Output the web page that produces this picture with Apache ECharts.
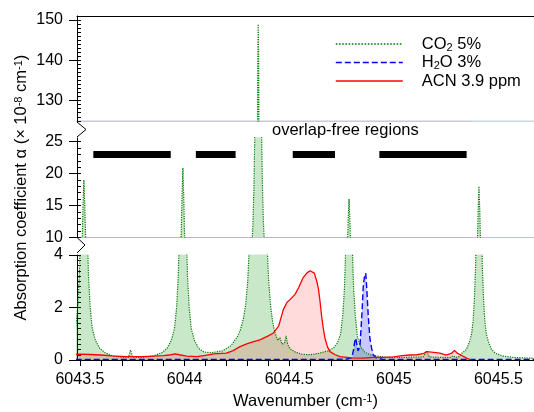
<!DOCTYPE html>
<html><head><meta charset="utf-8">
<script src="https://cdn.jsdelivr.net/npm/echarts@6/dist/echarts.min.js"></script>
<style>html,body{margin:0;padding:0;background:#fff}#c{width:534px;height:412px}</style>
</head><body><div id="c"></div>
<script>
// ---------------- data ----------------
const co2Wn = [6043.479,6043.489,6043.497,6043.503,6043.507,6043.511,6043.515,6043.519,6043.523,6043.527,6043.531,6043.535,6043.541,6043.549,6043.559,6043.574,6043.594,6043.619,6043.659,6043.700,6043.732,6043.742,6043.752,6043.800,6043.850,6043.892,6043.917,6043.937,6043.952,6043.962,6043.970,6043.976,6043.980,6043.984,6043.988,6043.992,6043.996,6044.000,6044.004,6044.008,6044.014,6044.022,6044.032,6044.047,6044.067,6044.092,6044.130,6044.182,6044.222,6044.252,6044.267,6044.282,6044.292,6044.302,6044.312,6044.322,6044.327,6044.332,6044.336,6044.339,6044.342,6044.344,6044.346,6044.348,6044.350,6044.352,6044.354,6044.356,6044.358,6044.360,6044.362,6044.365,6044.368,6044.372,6044.377,6044.382,6044.392,6044.402,6044.412,6044.422,6044.432,6044.445,6044.456,6044.466,6044.478,6044.485,6044.493,6044.505,6044.530,6044.560,6044.600,6044.640,6044.686,6044.711,6044.731,6044.746,6044.756,6044.764,6044.770,6044.774,6044.778,6044.782,6044.786,6044.790,6044.794,6044.798,6044.802,6044.808,6044.816,6044.826,6044.841,6044.861,6044.886,6044.920,6044.970,6045.050,6045.140,6045.157,6045.170,6045.220,6045.270,6045.283,6045.295,6045.310,6045.320,6045.327,6045.347,6045.362,6045.372,6045.379,6045.385,6045.391,6045.395,6045.399,6045.403,6045.407,6045.411,6045.415,6045.419,6045.423,6045.429,6045.435,6045.442,6045.452,6045.467,6045.487,6045.520,6045.570,6045.620,6045.680];
const co2Abs = [1.2,2.0,3.2,5.0,7.0,10.0,15.2,19.0,15.2,10.0,7.0,5.0,3.2,2.0,1.2,0.75,0.45,0.28,0.15,0.1,0.1,0.38,0.1,0.1,0.15,0.28,0.45,0.75,1.2,2.0,3.2,5.0,7.0,10.5,16.5,20.9,16.5,10.5,7.0,5.0,3.2,2.0,1.2,0.75,0.45,0.3,0.28,0.35,0.55,0.88,1.15,1.6,2.1,3.0,4.8,8.8,12.3,18.4,26.9,37,53.7,70,91,116,139.7,149,139.7,116,91,70,53.7,37,26.9,18.4,12.3,8.8,4.8,3.0,2.0,1.4,1.05,0.75,0.85,0.6,0.65,0.92,0.6,0.42,0.3,0.22,0.2,0.25,0.35,0.45,0.65,1.0,1.7,2.7,4.2,6.0,8.5,12.8,16.0,12.8,8.5,6.0,4.2,2.7,1.7,0.9,0.5,0.3,0.2,0.15,0.1,0.1,0.12,0.34,0.12,0.1,0.1,0.16,0.1,0.12,0.22,0.25,0.4,0.7,1.0,1.5,2.3,3.6,5.3,8.5,14,18,14,8.5,5.3,3.6,2.3,1.5,1.0,0.7,0.4,0.25,0.15,0.1,0.08,0.07];

const h2oWn = [6043.480,6044.700,6044.780,6044.800,6044.808,6044.813,6044.818,6044.823,6044.829,6044.834,6044.838,6044.847,6044.854,6044.860,6044.866,6044.871,6044.878,6044.886,6044.894,6044.902,6044.915,6044.950,6045.680];
const h2oAbs = [0.02,0.02,0.04,0.1,0.4,0.7,0.83,0.6,0.35,0.38,0.5,1.67,2.8,3.2,3.3,2.7,1.67,0.8,0.45,0.2,0.08,0.02,0.02];

const acnWn = [6043.480,6043.500,6043.550,6043.600,6043.650,6043.720,6043.800,6043.850,6043.900,6043.935,6043.955,6043.975,6044.010,6044.060,6044.100,6044.140,6044.200,6044.230,6044.265,6044.300,6044.330,6044.360,6044.400,6044.425,6044.450,6044.472,6044.490,6044.504,6044.528,6044.545,6044.567,6044.585,6044.600,6044.620,6044.632,6044.640,6044.648,6044.655,6044.663,6044.671,6044.683,6044.695,6044.720,6044.743,6044.800,6044.850,6044.900,6044.950,6045.000,6045.040,6045.077,6045.110,6045.140,6045.157,6045.180,6045.220,6045.250,6045.275,6045.290,6045.305,6045.320,6045.350,6045.370];
const acnAbs = [0.22,0.22,0.21,0.19,0.16,0.13,0.13,0.15,0.17,0.2,0.23,0.2,0.15,0.13,0.18,0.23,0.26,0.35,0.51,0.62,0.7,0.77,0.92,1.03,1.3,1.92,2.2,2.3,2.5,2.75,3.14,3.32,3.4,3.31,3.0,2.7,2.2,1.67,1.2,0.83,0.5,0.32,0.2,0.13,0.08,0.07,0.1,0.1,0.12,0.17,0.19,0.2,0.24,0.32,0.3,0.26,0.19,0.25,0.36,0.25,0.19,0.06,0.0];

const regionStart = [6043.564, 6044.054, 6044.517, 6044.931];
const regionEnd   = [6043.934, 6044.244, 6044.719, 6045.348];
const regionLevel = 23;

const xLabelValues = [6043.5, 6044, 6044.5, 6045, 6045.5];
const xTickValues = [6043.5,6043.6,6043.7,6043.8,6043.9,6044.0,6044.1,6044.2,6044.3,6044.4,6044.5,6044.6,6044.7,6044.8,6044.9,6045.0,6045.1,6045.2,6045.3,6045.4,6045.5,6045.6];
const yTopLabels = [130, 140, 150];
const yMidLabels = [10, 15, 20, 25];
const yBotLabels = [0, 2, 4];
const yTopMinor = [125,126,127,128,129,130,131,132,133,134,135,136,137,138,139,140,141,142,143,144,145,146,147,148,149,150,151];
const yMidMinor = [10,11,12,13,14,15,16,17,18,19,20,21,22,23,24,25];
const yBotMinor = [0,0.2,0.4,0.6,0.8,1,1.2,1.4,1.6,1.8,2,2.2,2.4,2.6,2.8,3,3.2,3.4,3.6,3.8,4];

// --------------- chart ----------------
const FF = '"Liberation Sans", Arial, sans-serif';
const zip = (a, b) => a.map((w, i) => [w, b[i]]);
const co2Data = zip(co2Wn, co2Abs);
const h2oData = zip(h2oWn, h2oAbs);
const acnData = zip(acnWn, acnAbs);
const barData = [];
regionStart.forEach((s, i) => { barData.push([s, regionLevel], [regionEnd[i], regionLevel], [regionEnd[i], null]); });

const XMIN = 6043.486, XMAX = 6045.67;
const segs = [
  {min: 125, max: 151, top: 16, height: 104.8, labels: yTopLabels, minor: yTopMinor},
  {min: 10, max: 25.6, top: 137.9, height: 99.4, labels: yMidLabels, minor: yMidMinor},
  {min: 0, max: 4, top: 255, height: 105, labels: yBotLabels, minor: yBotMinor}
];

const grids = segs.map(s => ({left: 77, right: 0, top: s.top, height: s.height}));
const xAxes = segs.map((s, g) => {
  const bottom = g === 2, top = g === 0;
  return {
    type: 'value', gridIndex: g, min: XMIN, max: XMAX,
    position: top ? 'top' : 'bottom',
    axisLine: {show: bottom || top, onZero: false, lineStyle: {color: '#000', width: 1}},
    axisTick: {show: bottom, length: 6, lineStyle: {color: '#000'}, customValues: xTickValues},
    axisLabel: {show: bottom, customValues: xLabelValues, formatter: v => String(v), color: '#000', fontSize: 16, fontFamily: FF, margin: 12},
    splitLine: {show: false},
    name: bottom ? 'Wavenumber (cm{sup|-1})' : '',
    nameLocation: 'middle', nameGap: 33,
    nameTextStyle: {color: '#000', fontSize: 16.5, fontFamily: FF,
      rich: {sup: {fontSize: 11, fontFamily: FF, color: '#000', verticalAlign: 'top', lineHeight: 10}}}
  };
});
const yAxes = [];
segs.forEach((s, g) => {
  yAxes.push({
    type: 'value', gridIndex: g, min: s.min, max: s.max, position: 'left',
    axisLine: {show: true, onZero: false, lineStyle: {color: '#000', width: 1}},
    axisTick: {show: true, length: 8, lineStyle: {color: '#000'}, customValues: s.labels},
    axisLabel: {customValues: s.labels, color: '#000', fontSize: 16, fontFamily: FF, margin: 14, formatter: v => String(v)},
    splitLine: {show: false},
    name: g === 1 ? 'Absorption coefficient α (× 10{sup|-8} cm{sup|-1})' : '',
    nameLocation: 'middle', nameRotate: 90, nameGap: 47,
    nameTextStyle: {color: '#000', fontSize: 16.5, fontFamily: FF,
      rich: {sup: {fontSize: 11, fontFamily: FF, color: '#000', verticalAlign: 'top', lineHeight: 10}}}
  });
  yAxes.push({
    type: 'value', gridIndex: g, min: s.min, max: s.max, position: 'left',
    axisLine: {show: false},
    axisTick: {show: true, inside: true, length: 4, lineStyle: {color: '#000'}, customValues: s.minor},
    axisLabel: {show: false},
    splitLine: {show: false}
  });
});

const series = [];
segs.forEach((s, g) => {
  const base = {type: 'line', xAxisIndex: g, yAxisIndex: 2 * g, symbol: 'none', showSymbol: false, silent: true, animation: false, clip: true};
  series.push(Object.assign({}, base, {name: 'CO2 5%', data: co2Data,
    lineStyle: {color: '#007a00', width: 1.2, type: 'dotted'}, itemStyle: {color: '#007a00'},
    areaStyle: {color: 'rgba(0,140,0,0.3)'}}));
  series.push(Object.assign({}, base, {name: 'H2O 3%', data: h2oData,
    lineStyle: {color: '#0000ff', width: 1.4, type: [6, 3]}, itemStyle: {color: '#0000ff'},
    areaStyle: {color: 'rgba(0,0,255,0.3)'}}));
  series.push(Object.assign({}, base, {name: 'ACN 3.9 ppm', data: acnData,
    lineStyle: {color: '#ff0000', width: 1.3}, itemStyle: {color: '#ff0000'},
    areaStyle: {color: 'rgba(255,0,0,0.2)'}}));
});
series.push({type: 'line', xAxisIndex: 1, yAxisIndex: 2, data: barData, symbol: 'none', showSymbol: false,
  silent: true, animation: false, connectNulls: false,
  lineStyle: {color: '#000', width: 7, cap: 'butt'}, itemStyle: {color: '#000'}});

const legendText = {'CO2 5%': 'CO{sub|2} 5%', 'H2O 3%': 'H{sub|2}O 3%', 'ACN 3.9 ppm': 'ACN 3.9 ppm'};

const chart = echarts.init(document.getElementById('c'), null, {renderer: 'canvas'});
chart.setOption({
  animation: false,
  backgroundColor: '#fff',
  grid: grids, xAxis: xAxes, yAxis: yAxes, series: series,
  legend: {
    data: ['CO2 5%', 'H2O 3%', 'ACN 3.9 ppm'], orient: 'vertical', left: 335, top: 35,
    itemWidth: 67, itemHeight: 14, itemGap: 0.5, padding: 0, selectedMode: false,
    itemStyle: {opacity: 0},
    lineStyle: {width: 1.6},
    formatter: n => legendText[n],
    textStyle: {color: '#000', fontSize: 16.5, fontFamily: FF, lineHeight: 18, padding: [0, 0, 0, 14],
      rich: {sub: {fontSize: 11, fontFamily: FF, color: '#000', verticalAlign: 'bottom', lineHeight: 9}}}
  },
  graphic: [
    {type: 'polyline', shape: {points: [[77, 122], [86, 129.5], [77, 137]]}, style: {stroke: '#000', fill: null, lineWidth: 1}, z: 100},
    {type: 'polyline', shape: {points: [[77, 237.5], [85, 245], [77, 253]]}, style: {stroke: '#000', fill: null, lineWidth: 1}, z: 100},
    {type: 'text', left: 272, top: 122, style: {text: 'overlap-free regions', font: '16.5px "Liberation Sans", Arial, sans-serif', fill: '#000'}, z: 100}
  ]
});
</script></body></html>
